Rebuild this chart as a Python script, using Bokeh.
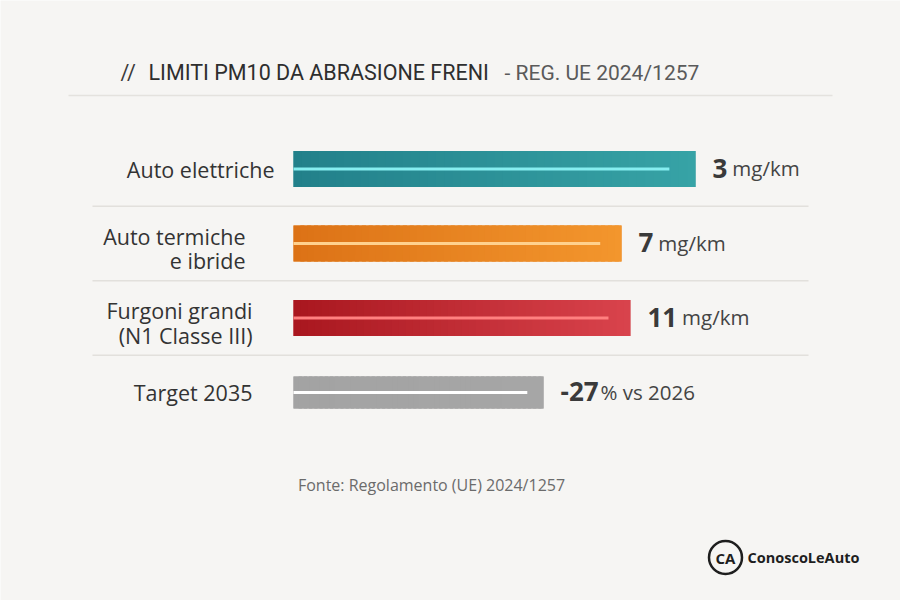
import numpy as np
from bokeh.plotting import figure
from bokeh.models import Range1d, Label
from bokeh.core.properties import value
from bokeh.embed import file_html
from bokeh.resources import INLINE

# ---------------- data ----------------
categories = ["Auto elettriche", "Auto termiche\ne ibride", "Furgoni grandi\n(N1 Classe III)", "Target 2035"]
limit_values = ["3", "7", "11", "-27"]
limit_units = ["mg/km", "mg/km", "mg/km", "% vs 2026"]
bar_extent = [100.0, 81.6, 83.8, 62.2]   # drawn bar length as in the source, % of the longest bar

title_lead = "//"
title_main = "LIMITI PM10 DA ABRASIONE FRENI"
title_tail = "- REG. UE 2024/1257"
source_note = "Fonte: Regolamento (UE) 2024/1257"
brand = "ConoscoLeAuto"
brand_mark = "CA"

# ---------------- style ----------------
W, H = 900, 600
BG = "#f6f5f3"
bar_left_colors = ["#22808a", "#dc7216", "#a9171f", "#a3a3a3"]
bar_right_colors = ["#37a3a6", "#f3962d", "#d9434c", "#a6a6a6"]
shine_colors = ["#86eef0", "#ffd18e", "#ff8080", "#ffffff"]
label_pad = [19, 48, 41, 41]
label_dy = [0, 5, 5, 0]
FONT = "Open Sans"

PX_PER_UNIT_X = 4.02
X0_PX = 293
ROW_PX = 74.5
ROW0_PX = 168.5

x_start = -X0_PX / PX_PER_UNIT_X
x_end = (W - X0_PX) / PX_PER_UNIT_X
y_top = -ROW0_PX / ROW_PX
y_bottom = y_top + H / ROW_PX


def dx(px):
    return (px - X0_PX) / PX_PER_UNIT_X


def dy(py):
    return (py - ROW0_PX) / ROW_PX


def mix(c1, c2, t):
    a = [int(c1[i:i + 2], 16) for i in (1, 3, 5)]
    b = [int(c2[i:i + 2], 16) for i in (1, 3, 5)]
    return "#%02x%02x%02x" % tuple(int(round(a[k] + (b[k] - a[k]) * t)) for k in range(3))


def num_width(s, size):
    w = {"-": 0.32}
    return sum(w.get(c, 0.57) for c in s) * size


p = figure(width=W, height=H, x_range=Range1d(x_start, x_end), y_range=Range1d(y_bottom, y_top),
           x_axis_location=None, y_axis_location=None, toolbar_location=None,
           output_backend="svg", min_border=0, background_fill_color=BG,
           border_fill_color=BG, outline_line_color=None)
p.grid.visible = False

rows = list(range(len(categories)))
bar_h = [0.483 if i < len(rows) - 1 else 0.43 for i in rows]

# title underline and row separators
p.segment(x0=[dx(68)], x1=[dx(832)], y0=[dy(95)], y1=[dy(95)], line_color="#e4e2de", line_width=1.5)
sep_rows = [r + 0.5 for r in rows[:-1]]
p.segment(x0=[dx(92)] * len(sep_rows), x1=[dx(808)] * len(sep_rows), y0=sep_rows, y1=sep_rows,
          line_color="#e2e0dc", line_width=1.3)

# base bars (solid), then horizontal gradient on top
p.hbar(y=rows, left=0, right=bar_extent, height=bar_h,
       fill_color=[mix(a, b, 0.5) for a, b in zip(bar_left_colors, bar_right_colors)],
       line_color=None)
N = 48
for i, L in enumerate(bar_extent):
    edges = np.linspace(0, L, N + 1)
    lefts = edges[:-1]
    rights = np.minimum(edges[1:] + L / N * 0.6, L)
    cols = [mix(bar_left_colors[i], bar_right_colors[i], (k + 0.5) / N) for k in range(N)]
    p.hbar(y=[i] * N, left=lefts, right=rights, height=bar_h[i], fill_color=cols, line_color=None)

# shine line inside bars
p.segment(x0=[0] * len(rows), x1=[0.935 * L for L in bar_extent], y0=rows, y1=rows,
          line_color=shine_colors, line_width=3)

# category labels
p.text(x=[0] * len(rows), y=rows, text=categories, x_offset=[-v for v in label_pad],
       y_offset=label_dy, text_align="right", text_baseline="middle", text_font=value(FONT),
       text_font_size="21.5px", text_color="#333333", text_line_height=0.86)

# value labels
p.text(x=bar_extent, y=rows, text=limit_values, x_offset=17, y_offset=-1,
       text_align="left", text_baseline="alphabetic", text_font=value(FONT),
       text_font_style="bold", text_font_size="26px", text_color="#3a3a3a")
unit_off = [17 + num_width(s, 26) + (5 if s[0] != "-" else 2) for s in limit_values]
p.text(x=bar_extent, y=rows, text=limit_units, x_offset=unit_off, y_offset=-1,
       text_align="left", text_baseline="alphabetic", text_font=value(FONT),
       text_font_size="20.5px", text_color="#444444")

# title
p.add_layout(Label(x=120, y=H - 72, x_units="screen", y_units="screen", text=title_lead,
                   text_font="Roboto", text_font_size="21.5px", text_color="#3a3a3a",
                   text_baseline="middle"))
p.add_layout(Label(x=148, y=H - 72, x_units="screen", y_units="screen", text=title_main,
                   text_font="Roboto", text_font_size="21.5px", text_color="#2e2e2e",
                   text_baseline="middle"))
p.add_layout(Label(x=504, y=H - 72, x_units="screen", y_units="screen", text=title_tail,
                   text_font="Roboto", text_font_size="21px", text_color="#5a5a5a",
                   text_baseline="middle"))

# source note
p.add_layout(Label(x=431, y=H - 484, x_units="screen", y_units="screen", text=source_note,
                   text_font=FONT, text_font_size="16px", text_color="#6b6b6b",
                   text_align="center", text_baseline="middle"))

# brand
p.scatter(x=[dx(725)], y=[dy(557)], size=33, marker="circle", fill_color=None,
          line_color="#1e1e1e", line_width=2.5)
p.add_layout(Label(x=725, y=H - 557, x_units="screen", y_units="screen", text=brand_mark,
                   text_font=FONT, text_font_style="bold", text_font_size="15px",
                   text_color="#1e1e1e", text_align="center", text_baseline="middle"))
p.add_layout(Label(x=747, y=H - 557, x_units="screen", y_units="screen", text=brand,
                   text_font=FONT, text_font_style="bold", text_font_size="14.5px",
                   text_color="#1e1e1e", text_align="left", text_baseline="middle"))

open("out.html", "w").write(file_html(p, INLINE))
